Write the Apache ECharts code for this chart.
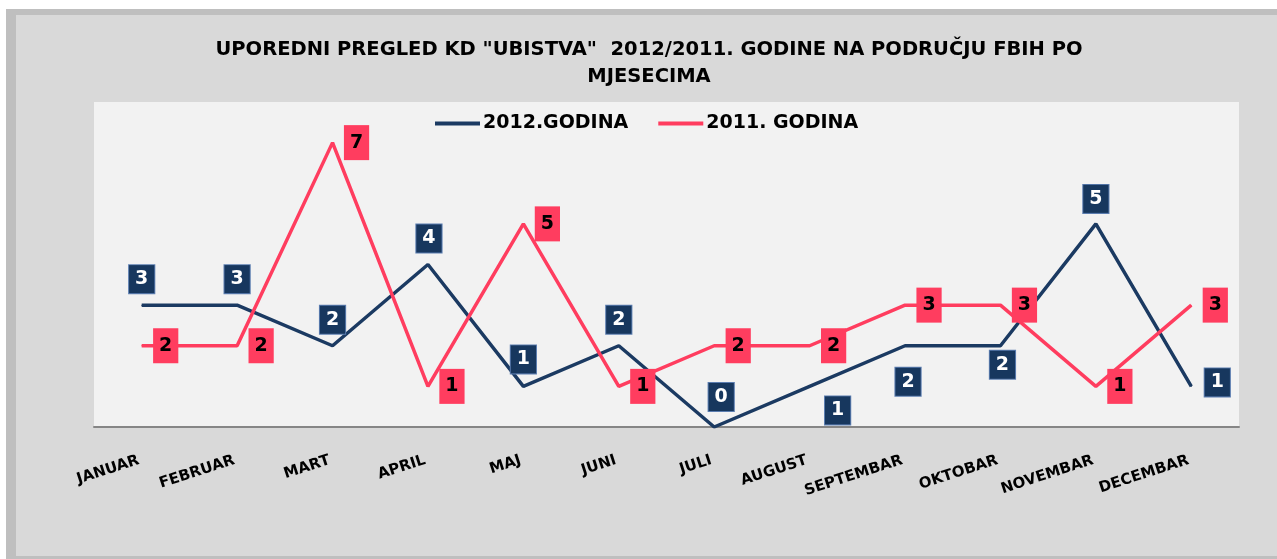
<!DOCTYPE html>
<html>
<head>
<meta charset="utf-8">
<script src="https://cdn.jsdelivr.net/npm/echarts@6/dist/echarts.min.js"></script>
<style>
  html { background: linear-gradient(#ffffff 0, #ffffff 9px, #d9d9d9 9px, #d9d9d9 100%); }
  html, body { margin: 0; padding: 0; overflow: hidden; }
  body { background: transparent; width: 1277px; height: 559px; }
  #chart { position: absolute; left: 0; top: 0; width: 1277px; height: 559px; }
</style>
</head>
<body>
<div id="chart"></div>
<script>
// ---- data ----
const months = ['JANUAR', 'FEBRUAR', 'MART', 'APRIL', 'MAJ', 'JUNI', 'JULI', 'AUGUST', 'SEPTEMBAR', 'OKTOBAR', 'NOVEMBAR', 'DECEMBAR'];
const seriesNames = ['2012.GODINA', '2011. GODINA'];
const values2012 = [3, 3, 2, 4, 1, 2, 0, 1, 2, 2, 5, 1];
const values2011 = [2, 2, 7, 1, 5, 1, 2, 2, 3, 3, 1, 3];
const titleText = 'UPOREDNI PREGLED KD "UBISTVA"  2012/2011. GODINE NA PODRUČJU FBIH PO\nMJESECIMA';

// ---- styling ----
const NAVY = '#1b3a62';
const RED = '#ff3d5f';
const FONT = 'DejaVu Sans';
const navyLabelOffsets = [[0, -26], [0, -26], [0, -26], [1, -26], [0, -27], [0, -26], [7, -30], [28, 24], [3, 36], [2, 19], [0, -25], [26, -4]];

const chart = echarts.init(document.getElementById('chart'), null, { renderer: 'canvas' });

const option = {
  backgroundColor: '#ffffff',
  animation: false,
  graphic: [
    { type: 'rect', silent: true, z: -10, shape: { x: 6, y: 9, width: 1300, height: 550 }, style: { fill: '#bfbfbf' } },
    { type: 'rect', silent: true, z: -9, shape: { x: 16, y: 15, width: 1300, height: 541 }, style: { fill: '#d9d9d9' } }
  ],
  title: {
    text: titleText,
    left: 649,
    top: 36,
    padding: 0,
    textAlign: 'center',
    textStyle: { fontFamily: FONT, fontWeight: 'bold', fontSize: 19.5, lineHeight: 27, color: '#000000' }
  },
  legend: {
    data: seriesNames,
    left: 435,
    top: 114,
    icon: 'rect',
    itemWidth: 45,
    itemHeight: 4,
    itemGap: 30,
    padding: 0,
    textStyle: { fontFamily: FONT, fontWeight: 'bold', fontSize: 19, color: '#000000', padding: [0, 0, 0, -2] }
  },
  grid: {
    left: 94, right: 38, top: 102, bottom: 132,
    show: true, backgroundColor: '#f2f2f2', borderWidth: 0
  },
  xAxis: {
    type: 'category',
    data: months,
    boundaryGap: true,
    axisLine: { show: true, lineStyle: { color: '#868686', width: 2 } },
    axisTick: { show: false },
    splitLine: { show: false },
    axisLabel: {
      interval: 0,
      rotate: 18,
      margin: 32,
      fontFamily: FONT,
      fontWeight: 'bold',
      fontSize: 15,
      color: '#000000',
      padding: [0, 3, 0, 0]
    }
  },
  yAxis: {
    type: 'value',
    min: 0, max: 8,
    show: false,
    splitLine: { show: false }
  },
  series: [
    {
      name: seriesNames[0],
      type: 'line',
      data: values2012.map((v, i) => ({ value: v, label: { offset: navyLabelOffsets[i] } })),
      symbol: 'circle',
      symbolSize: 1,
      showSymbol: true,
      itemStyle: { color: NAVY },
      lineStyle: { color: NAVY, width: 3.5 },
      label: {
        show: true,
        position: 'inside',
        color: '#ffffff',
        fontFamily: FONT,
        fontWeight: 'bold',
        fontSize: 19,
        lineHeight: 19,
        backgroundColor: '#17375e',
        borderColor: '#5b7db0',
        borderWidth: 1,
        padding: [5, 6, 4, 6]
      },
      z: 2
    },
    {
      name: seriesNames[1],
      type: 'line',
      data: values2011,
      symbol: 'circle',
      symbolSize: 1,
      showSymbol: true,
      itemStyle: { color: RED },
      lineStyle: { color: RED, width: 3.5 },
      label: {
        show: true,
        position: 'inside',
        offset: [24, 0],
        color: '#000000',
        fontFamily: FONT,
        fontWeight: 'bold',
        fontSize: 19,
        lineHeight: 19,
        backgroundColor: RED,
        padding: [8, 6, 8, 6]
      },
      z: 3
    }
  ]
};

chart.setOption(option);
</script>
</body>
</html>
